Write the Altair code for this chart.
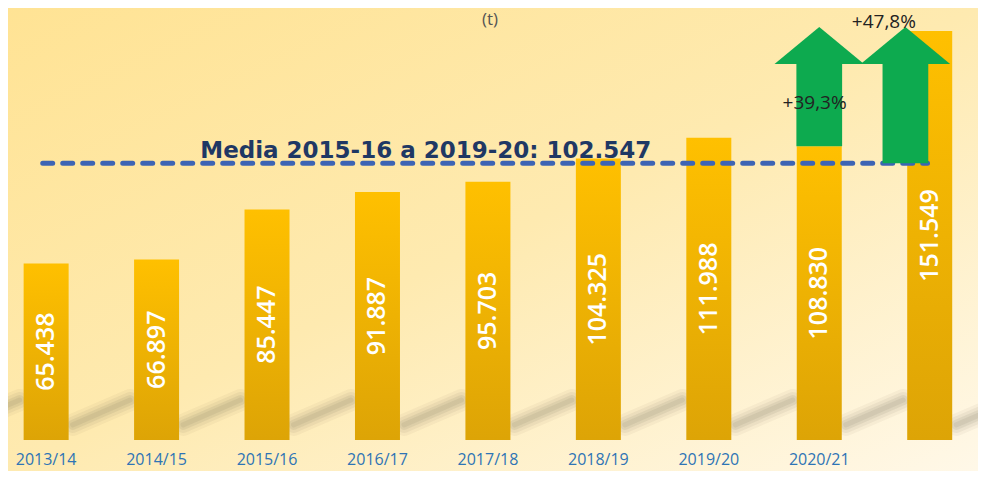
import altair as alt
import pandas as pd

# ---- data ----
years = ["2013/14", "2014/15", "2015/16", "2016/17", "2017/18", "2018/19", "2019/20", "2020/21", ""]
values = [65.438, 66.897, 85.447, 91.887, 95.703, 104.325, 111.988, 108.830, 151.549]
mean_value = 102.547
mean_label = "Media 2015-16 a 2019-20: 102.547"
pct_labels = ["+39,3%", "+47,8%"]
# arrows: centre (category index), shaft bottom value
arrow_centers = [7.0, 7.78]
arrow_bottoms = [108.830, 102.547]
arrow_head_base = 139.3
arrow_tip = 153.0
title_text = "(t)"

W, H = 970, 463
XS = alt.Scale(domain=[-0.300, 8.392], nice=False, zero=False)
YS = alt.Scale(domain=[-11.49, 160.07], nice=False, zero=False)

bars_df = pd.DataFrame({
    "i": list(range(len(values))),
    "v": values,
    "lab": [f"{v:.3f}" for v in values],
    "year": years,
})
bars_df["mid"] = bars_df["v"] / 2
bars_df["ly"] = -7.3

# background
bg = alt.Chart(pd.DataFrame({"a": [0]})).mark_rect(
    color=alt.Gradient(
        gradient="linear", x1=0, y1=0, x2=1, y2=1,
        stops=[alt.GradientStop(color="#FFE394", offset=0),
               alt.GradientStop(color="#FEEAB0", offset=0.5),
               alt.GradientStop(color="#FFF8E8", offset=1)])
).encode(x=alt.value(0), x2=alt.value(W), y=alt.value(0), y2=alt.value(H))

# soft floor shadows between bars (decoration)
sh_rows = [{"x1": k + 0.24, "x2": k + 0.76, "y1": 5.6, "y2": 14.8} for k in range(-1, len(values))]
sh_df = pd.DataFrame(sh_rows)
shadow_layers = []
for w, op in [(22, 0.05), (16, 0.07), (10, 0.09), (5, 0.09)]:
    shadow_layers.append(
        alt.Chart(sh_df).mark_rule(color="#5E5640", strokeWidth=w, opacity=op, strokeCap="round", clip=True).encode(
            x=alt.X("x1:Q", scale=XS, axis=None), x2="x2:Q",
            y=alt.Y("y1:Q", scale=YS, axis=None), y2="y2:Q",
        )
    )

bars = alt.Chart(bars_df).mark_bar(
    size=45,
    color=alt.Gradient(
        gradient="linear", x1=0, y1=0, x2=0, y2=1,
        stops=[alt.GradientStop(color="#FFC000", offset=0),
               alt.GradientStop(color="#DDA406", offset=1)])
).encode(
    x=alt.X("i:Q", scale=XS, axis=None),
    y=alt.Y("v:Q", scale=YS, axis=None),
    y2=alt.datum(0),
)

year_text = alt.Chart(bars_df).mark_text(
    align="center", baseline="middle", color="#2E74B5",
    font="Open Sans", fontSize=16
).encode(
    x=alt.X("i:Q", scale=XS, axis=None),
    y=alt.Y("ly:Q", scale=YS, axis=None),
    text="year:N",
)

bar_text = alt.Chart(bars_df).mark_text(
    angle=270, align="center", baseline="middle", color="white",
    font="Open Sans", fontSize=25, fontWeight=600
).encode(
    x=alt.X("i:Q", scale=XS, axis=None),
    y=alt.Y("mid:Q", scale=YS, axis=None),
    text="lab:N",
)

mean_df = pd.DataFrame({"x1": [-0.031], "x2": [7.98], "v": [mean_value],
                        "tx": [3.437], "ty": [104.5], "t": [mean_label]})
mean_rule = alt.Chart(mean_df).mark_rule(
    color="#3D64B4", strokeWidth=5, strokeDash=[10, 10], strokeCap="round"
).encode(
    x=alt.X("x1:Q", scale=XS, axis=None), x2="x2:Q",
    y=alt.Y("v:Q", scale=YS, axis=None),
)
mean_text = alt.Chart(mean_df).mark_text(
    align="center", baseline="alphabetic", color="#1F3864",
    font="DejaVu Sans", fontSize=23, fontWeight="bold"
).encode(
    x=alt.X("tx:Q", scale=XS, axis=None),
    y=alt.Y("ty:Q", scale=YS, axis=None),
    text="t:N",
)

# arrows
green = "#0DAA4F"
shaft_rows, head_rows = [], []
for k, (c, b) in enumerate(zip(arrow_centers, arrow_bottoms)):
    shaft_rows.append({"k": k, "x1": c - 0.207, "x2": c + 0.207, "y1": b, "y2": arrow_head_base + 0.3})
    head_rows += [
        {"k": k, "x": c - 0.405, "y": arrow_head_base, "yb": arrow_head_base},
        {"k": k, "x": c, "y": arrow_tip, "yb": arrow_head_base},
        {"k": k, "x": c + 0.405, "y": arrow_head_base, "yb": arrow_head_base},
    ]
heads_df = pd.DataFrame(head_rows)
shafts = alt.Chart(pd.DataFrame(shaft_rows)).mark_rect(color=green).encode(
    x=alt.X("x1:Q", scale=XS, axis=None), x2="x2:Q",
    y=alt.Y("y1:Q", scale=YS, axis=None), y2="y2:Q",
)
head_layers = []
for k in range(len(arrow_centers)):
    head_layers.append(
        alt.Chart(heads_df[heads_df["k"] == k]).mark_area(color=green, interpolate="linear").encode(
            x=alt.X("x:Q", scale=XS, axis=None),
            y=alt.Y("y:Q", scale=YS, axis=None, stack=None),
            y2="yb:Q",
        )
    )

pct_df = pd.DataFrame({"x": [6.958, 7.585], "y": [124.9, 155.0], "t": pct_labels})
pct_text = alt.Chart(pct_df).mark_text(
    align="center", baseline="middle", color="#222222",
    font="Open Sans", fontSize=19
).encode(
    x=alt.X("x:Q", scale=XS, axis=None),
    y=alt.Y("y:Q", scale=YS, axis=None),
    text="t:N",
)

title_df = pd.DataFrame({"x": [4.019], "y": [158.6], "t": [title_text]})
title = alt.Chart(title_df).mark_text(
    align="center", baseline="top", color="#555555",
    font="Open Sans", fontSize=17
).encode(
    x=alt.X("x:Q", scale=XS, axis=None),
    y=alt.Y("y:Q", scale=YS, axis=None),
    text="t:N",
)

chart = alt.layer(bg, *shadow_layers, bars, year_text, bar_text, mean_rule, mean_text,
                  shafts, *head_layers, pct_text, title).properties(
    width=W, height=H,
    autosize=alt.AutoSizeParams(type="none"),
    padding=0,
    background="#FFF3D0",
).configure_view(stroke=None)

chart.save("out.html", embed_options={"renderer": "svg", "actions": False})
